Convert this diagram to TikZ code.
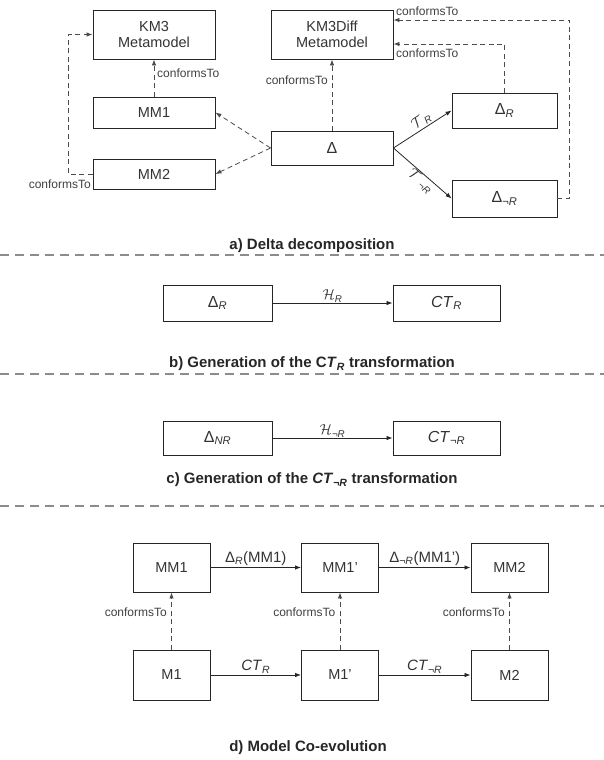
\documentclass[tikz,border=0pt]{standalone}
\usepackage{fontspec}
\usepackage{amsmath}
\setmainfont{Liberation Sans}
\usetikzlibrary{arrows.meta}
\newcommand\lowsub[1]{\ensuremath{_{\text{#1}}}}
\begin{document}
\begin{tikzpicture}[x=1pt,y=-1pt,
 box/.style={draw=black!85, line width=0.9pt, inner sep=0pt, font=\fontsize{14.5}{16.5}\selectfont, text=black!80, align=center},
 conf/.style={font=\fontsize{12}{13}\selectfont, text=black!75, inner sep=1pt},
 dasharrow/.style={draw=black!70, line width=0.8pt, dash pattern=on 5pt off 3.5pt, -{Latex[length=6pt,width=4.5pt]}},
 solidarrow/.style={draw=black!85, line width=0.8pt, -{Latex[length=6pt,width=4.5pt]}},
 sepline/.style={draw=black!45, line width=1.2pt, dash pattern=on 9pt off 6pt},
 caption/.style={font=\bfseries\fontsize{15}{17}\selectfont, text=black!85},
 lab/.style={font=\fontsize{14.5}{16}\selectfont, text=black!80, inner sep=1.5pt}
]
\useasboundingbox (0,0) rectangle (604,760);

% ---------- a) Delta decomposition ----------
\node[box, minimum width=122pt, minimum height=49pt] (km3) at (154,34.5) {KM3\\Metamodel};
\node[box, minimum width=122pt, minimum height=49pt] (km3d) at (332,34.5) {KM3Diff\\Metamodel};
\node[box, minimum width=122pt, minimum height=31pt] (mm1a) at (154,112.5) {MM1};
\node[box, minimum width=122pt, minimum height=30pt] (mm2a) at (154,174) {MM2};
\node[box, minimum width=122pt, minimum height=34pt, font=\fontsize{16}{18}\selectfont] (delta) at (332,148) {Δ};
\node[box, minimum width=105pt, minimum height=35pt, font=\fontsize{16}{18}\selectfont] (dr) at (504.5,110.5) {Δ\lowsub{\textit{R}}};
\node[box, minimum width=105pt, minimum height=37pt, font=\fontsize{16}{18}\selectfont] (dnr) at (504.5,198.5) {Δ\lowsub{¬\textit{R}}};

\draw[dasharrow] (mm1a.north) -- (km3.south);
\node[conf, anchor=west] (c1) at (156,73) {conformsTo};
\draw[dasharrow] (mm2a.west) -- ++(-24,0) |- (km3.west);
\node[conf, anchor=east] (c2) at (92,184) {conformsTo};
\draw[dasharrow] (delta.north) -- (km3d.south);
\node[conf, anchor=east] (c3) at (329,80) {conformsTo};
\draw[dasharrow] (dr.north) |- ([yshift=-9.5pt]km3d.east);
\node[conf, anchor=west] (c4) at (395,53) {conformsTo};
\draw[dasharrow] (dnr.east) -- ++(12,0) |- ([yshift=14.5pt]km3d.east);
\node[conf, anchor=west] (c5) at (395,11) {conformsTo};

\draw[dasharrow] (delta.west) -- (mm1a.east);
\draw[dasharrow] (delta.west) -- (mm2a.east);
\draw[solidarrow] (delta.east) -- node[sloped, above, pos=0.55, lab, inner sep=1pt, font=\fontsize{14}{15}\selectfont] {$\mathcal{T}$\kern1.5pt\lowsub{\textit{R}}} (dr.west);
\draw[solidarrow] (delta.east) -- node[sloped, below, pos=0.55, lab, inner sep=1pt, font=\fontsize{14}{15}\selectfont] {$\mathcal{T}$\kern3.5pt\lowsub{¬\textit{R}}} (dnr.west);

\node[caption] (capa) at (312,246) {a) Delta decomposition};
\coordinate (s1l) at (0,255);
\coordinate (s1r) at (604,255);
\draw[sepline] (s1l) -- (s1r);

% ---------- b) ----------
\node[box, minimum width=109pt, minimum height=36pt, font=\fontsize{16}{18}\selectfont] (bdr) at (217.5,303) {Δ\lowsub{\textit{R}}};
\node[box, minimum width=107pt, minimum height=36pt, font=\fontsize{16}{18}\selectfont] (bct) at (446.5,303) {\textit{CT}\lowsub{\textit{R}}};
\draw[solidarrow] (bdr) -- node[above, lab, inner sep=0.5pt, font=\fontsize{14}{15}\selectfont] {$\mathcal{H}$\lowsub{\textit{R}}} (bct);
\node[caption] (capb) at (312,364) {b) Generation of the C\textit{T}\lowsub{\textit{R}} transformation};
\coordinate (s2l) at (0,374);
\coordinate (s2r) at (604,374);
\draw[sepline] (s2l) -- (s2r);

% ---------- c) ----------
\node[box, minimum width=109pt, minimum height=34pt, font=\fontsize{16}{18}\selectfont] (cdr) at (217.5,438) {Δ\lowsub{\textit{NR}}};
\node[box, minimum width=107pt, minimum height=34pt, font=\fontsize{16}{18}\selectfont] (cct) at (446.5,438) {\textit{CT}\lowsub{¬\textit{R}}};
\draw[solidarrow] (cdr) -- node[above, lab, inner sep=0.5pt, font=\fontsize{14}{15}\selectfont] {$\mathcal{H}$\lowsub{¬\textit{R}}} (cct);
\node[caption] (capc) at (312,480) {c) Generation of the \textit{CT}\lowsub{¬\textit{R}} transformation};
\coordinate (s3l) at (0,506);
\coordinate (s3r) at (604,506);
\draw[sepline] (s3l) -- (s3r);

% ---------- d) Model Co-evolution ----------
\node[box, minimum width=77pt, minimum height=49pt] (dmm1) at (171.5,567.5) {MM1};
\node[box, minimum width=77pt, minimum height=49pt] (dmm1p) at (340,567.5) {MM1'};
\node[box, minimum width=77pt, minimum height=49pt] (dmm2) at (509.5,567.5) {MM2};
\node[box, minimum width=77pt, minimum height=50pt] (dm1) at (171.5,675) {M1};
\node[box, minimum width=77pt, minimum height=50pt] (dm1p) at (340,675) {M1'};
\node[box, minimum width=77pt, minimum height=50pt] (dm2) at (509.5,675) {M2};

\draw[solidarrow] (dmm1) -- node[above, lab, font=\fontsize{15}{16}\selectfont] {Δ\lowsub{\textit{R}}(MM1)} (dmm1p);
\draw[solidarrow] (dmm1p) -- node[above, lab, font=\fontsize{15}{16}\selectfont] {Δ\lowsub{¬\textit{R}}(MM1')} (dmm2);
\draw[solidarrow] (dm1) -- node[above, lab, font=\fontsize{15}{16}\selectfont] {\textit{CT}\lowsub{\textit{R}}} (dm1p);
\draw[solidarrow] (dm1p) -- node[above, lab, font=\fontsize{15}{16}\selectfont] {\textit{CT}\lowsub{¬\textit{R}}} (dm2);

\draw[dasharrow] (dm1) -- (dmm1);
\draw[dasharrow] (dm1p) -- (dmm1p);
\draw[dasharrow] (dm2) -- (dmm2);
\node[conf, anchor=east] (d1) at (168,612) {conformsTo};
\node[conf, anchor=east] (d2) at (336.5,612) {conformsTo};
\node[conf, anchor=east] (d3) at (506,612) {conformsTo};

\node[caption] (capd) at (308,748) {d) Model Co-evolution};
\end{tikzpicture}
\end{document}
